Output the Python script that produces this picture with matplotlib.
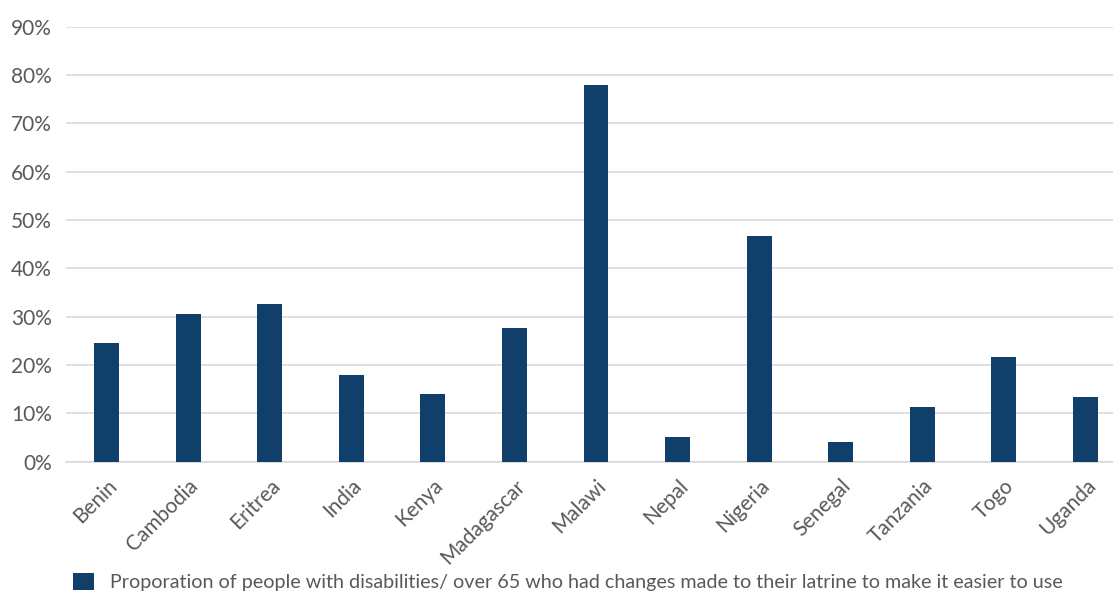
import matplotlib

matplotlib.use("Agg")
import matplotlib.pyplot as plt
from matplotlib.ticker import PercentFormatter

countries = ["Benin", "Cambodia", "Eritrea", "India", "Kenya", "Madagascar", "Malawi",
             "Nepal", "Nigeria", "Senegal", "Tanzania", "Togo", "Uganda"]
share = [0.245, 0.305, 0.326, 0.179, 0.140, 0.277, 0.779,
         0.051, 0.467, 0.041, 0.113, 0.217, 0.134]
series_label = ("Proporation of people with disabilities/ over 65 who had changes "
                "made to their latrine to make it easier to use")

plt.rcParams["font.family"] = ["Lato", "DejaVu Sans"]
plt.rcParams["font.weight"] = "normal"

bar_color = "#113f6b"
grid_color = "#d9d9d9"
text_color = "#595959"

fig = plt.figure(figsize=(11.13, 5.92), dpi=100)
ax = fig.add_axes([0.059, 0.2201, 0.953, 0.7348])

x = range(len(countries))
ax.bar(x, share, width=0.306, color=bar_color, label=series_label, zorder=3)

ax.set_xlim(-0.5, len(countries) - 0.5)
ax.set_ylim(0, 0.9)
ax.set_yticks([i / 10 for i in range(10)])
ax.yaxis.set_major_formatter(PercentFormatter(1.0, decimals=0))
ax.grid(axis="y", color=grid_color, linewidth=1.2, zorder=0)
for side in ("top", "right", "left"):
    ax.spines[side].set_visible(False)
ax.spines["bottom"].set_color(grid_color)
ax.spines["bottom"].set_linewidth(1.2)

ax.set_xticks(list(x))
ax.set_xticklabels(countries, rotation=45, ha="right", rotation_mode="anchor")
ax.tick_params(axis="both", length=0, labelsize=15, labelcolor=text_color)
ax.tick_params(axis="x", pad=10)
ax.tick_params(axis="y", pad=10)

fig.legend(loc="center left", bbox_to_anchor=(73 / 1113, 10 / 592), frameon=False,
           fontsize=14.25, handlelength=1.05, handleheight=1.0, handletextpad=0.8,
           borderpad=0, borderaxespad=0, labelcolor=text_color)

fig.savefig("out.png", dpi=100)
plt.close(fig)
